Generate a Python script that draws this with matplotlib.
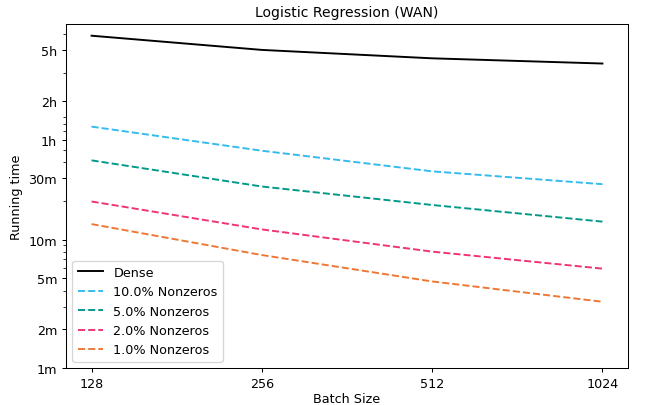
import matplotlib
matplotlib.use("Agg")
import matplotlib.pyplot as plt
from matplotlib.ticker import FixedLocator, FixedFormatter, LogLocator, NullFormatter

batch_sizes = [128, 256, 512, 1024]

# running times in minutes
dense = [387, 300, 258, 235]
nz_10 = [75.8, 49.2, 34.0, 27.0]
nz_5 = [41.4, 25.9, 18.6, 13.8]
nz_2 = [19.8, 12.0, 8.06, 5.94]
nz_1 = [13.2, 7.58, 4.72, 3.28]

ytick_vals = [1, 2, 5, 10, 30, 60, 120, 300]
ytick_labels = ["1m", "2m", "5m", "10m", "30m", "1h", "2h", "5h"]

DPI = 92
fig = plt.figure(figsize=(650 / DPI, 406 / DPI), dpi=DPI)
ax = fig.add_axes([66 / 650, 1 - 369 / 406, (628 - 66) / 650, (369 - 24.7) / 406])

ax.plot(batch_sizes, dense, color="black", linestyle="-", label="Dense")
ax.plot(batch_sizes, nz_10, color="#33bbee", linestyle="--", label="10.0% Nonzeros")
ax.plot(batch_sizes, nz_5, color="#009988", linestyle="--", label="5.0% Nonzeros")
ax.plot(batch_sizes, nz_2, color="#ee3377", linestyle="--", label="2.0% Nonzeros")
ax.plot(batch_sizes, nz_1, color="#ee7733", linestyle="--", label="1.0% Nonzeros")

ax.set_xscale("log", base=2)
ax.set_xticks(batch_sizes)
ax.set_xticklabels([str(b) for b in batch_sizes])
ax.xaxis.set_minor_locator(FixedLocator([]))

ax.set_yscale("log")
ax.set_ylim(1, 480)
ax.yaxis.set_major_locator(FixedLocator(ytick_vals))
ax.yaxis.set_major_formatter(FixedFormatter(ytick_labels))
ax.yaxis.set_minor_locator(LogLocator(base=10, subs=range(2, 10)))
ax.yaxis.set_minor_formatter(NullFormatter())

ax.set_xlabel("Batch Size", labelpad=1.5)
ax.set_ylabel("Running time")
ax.set_title("Logistic Regression (WAN)", fontsize=11)
ax.legend(loc="lower left")

fig.savefig("out.png", dpi=DPI)
